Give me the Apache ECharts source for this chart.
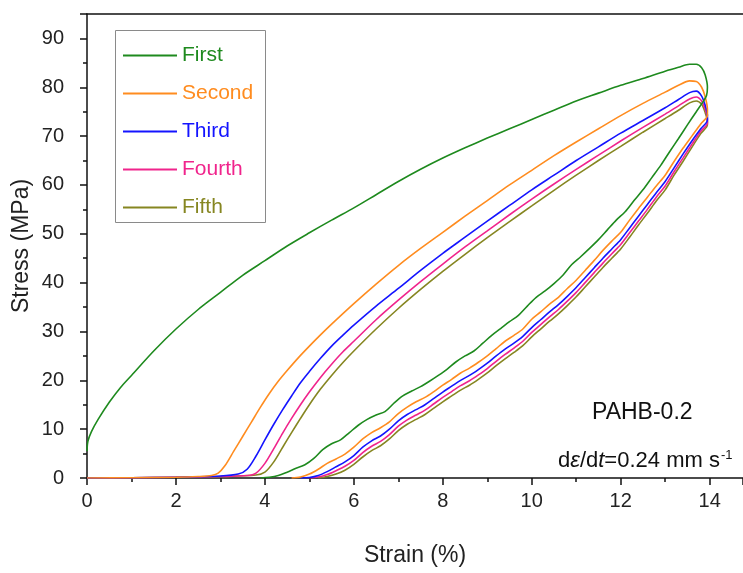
<!DOCTYPE html>
<html>
<head>
<meta charset="utf-8">
<script src="https://cdn.jsdelivr.net/npm/echarts@6/dist/echarts.min.js"></script>
<style>
html,body{margin:0;padding:0;background:#fff;}
#chart{width:743px;height:573px;}
</style>
</head>
<body>
<div id="chart"></div>
<script>
// ---- Data (strain %, stress MPa) ----
const seriesNames = ['First', 'Second', 'Third', 'Fourth', 'Fifth'];
const xTicks = [0, 2, 4, 6, 8, 10, 12, 14];
const yTicks = [0, 10, 20, 30, 40, 50, 60, 70, 80, 90];

const firstStrain = [0,0.02,0.1,0.25,0.5,0.75,1,1.5,2,2.5,3,3.5,4,4.5,5,5.5,6,6.5,7,7.5,8,8.5,9,9.5,10,10.5,11,11.5,12,12.5,13,13.3,13.55,13.7,13.82,13.9,13.95,13.93,13.85,
  13.7,13.5,13.3,13.1,12.9,12.7,12.5,12.3,12.1,11.9,11.7,11.5,11.3,11.1,10.9,10.7,10.5,10.3,10.1,9.9,9.7,9.5,9.3,9.1,8.9,8.7,8.5,8.3,8.1,7.9,7.7,7.5,7.3,7.1,6.9,6.7,6.5,6.3,6.1,5.9,5.7,5.5,5.3,5.1,4.9,4.7,4.5,4.3,4.1,3.9];
const firstStress = [5.5,7.5,9.5,12,15.5,18.5,21,26,30.5,34.5,38,41.5,44.5,47.5,50.2,52.8,55.3,58,60.7,63.2,65.5,67.6,69.6,71.5,73.4,75.3,77.2,78.8,80.4,81.8,83.3,84.1,84.7,84.7,84,82.5,80,78.3,77,
  75,72.3,69.5,66.8,64,61.5,59,56.8,54.5,52.8,50.8,48.8,47,45.3,43.7,41.5,39.8,38.3,37,35.2,33.3,32,30.6,29.2,27.6,26,25,23.8,22.3,21,19.8,18.7,17.8,16.8,15.3,13.6,12.9,12,10.8,9.3,7.8,7,5.8,4,2.7,2,1.2,0.5,0.15,0];

const secondStrain = [0,1,2,2.5,2.8,2.95,3.1,3.3,3.5,3.7,3.9,4.1,4.3,4.5,4.75,5,5.25,5.5,6,6.5,7,7.5,8,8.5,9,9.5,10,10.5,11,11.5,12,12.5,13,13.3,13.55,13.7,13.82,13.9,13.95,13.95,
  13.8,13.6,13.4,13.2,13,12.8,12.6,12.4,12.2,12,11.8,11.6,11.4,11.2,11,10.8,10.6,10.4,10.2,10,9.8,9.6,9.4,9.2,9,8.8,8.6,8.4,8.2,8,7.8,7.6,7.4,7.2,7,6.8,6.6,6.4,6.2,6,5.8,5.6,5.4,5.2,5,4.8,4.6];
const secondStress = [0,0.05,0.15,0.3,0.5,1,2.5,5.5,8.5,11.5,14.5,17.3,19.8,22,24.6,27,29.3,31.5,35.7,39.7,43.5,47,50.3,53.6,56.8,60,63,66,68.8,71.5,74.2,76.7,79,80.4,81.3,81.2,80,78,75.5,74.2,
  72.5,70,67.5,64.8,62,59.8,57.5,55.2,52.8,50.3,48.5,46.6,44.5,42.5,40.5,38.8,37,35.6,34,32.5,30.5,29.2,28,26.5,25,23.7,22.5,21.5,20.2,19,17.7,16.5,15.6,14.5,13.2,11.5,10.3,9.3,8,6.3,4.9,3.9,3,1.8,0.8,0.2,0];

const thirdStrain = [0,1,2,3,3.4,3.6,3.8,4,4.2,4.4,4.6,4.8,5,5.25,5.5,5.75,6,6.5,7,7.5,8,8.5,9,9.5,10,10.5,11,11.5,12,12.5,13,13.3,13.55,13.7,13.82,13.9,13.95,13.95,
  13.8,13.6,13.4,13.2,13,12.8,12.6,12.4,12.2,12,11.8,11.6,11.4,11.2,11,10.8,10.6,10.4,10.2,10,9.8,9.6,9.4,9.2,9,8.8,8.6,8.4,8.2,8,7.8,7.6,7.4,7.2,7,6.8,6.6,6.4,6.2,6,5.8,5.6,5.4,5.2,5,4.8];
const thirdStress = [0,0.05,0.15,0.4,0.8,1.8,4.5,7.8,11,14,16.8,19.5,21.8,24.5,27,29.2,31.3,35.2,38.8,42.5,46,49.3,52.6,55.8,59,62,65,67.8,70.6,73.2,75.8,77.5,78.9,79.2,78.2,76.3,74.2,73.3,
  71.5,69,66.3,63.5,60.7,58.4,56,53.6,51.2,48.8,46.9,45,43,41,39,37.2,35.5,34,32.4,30.8,29,27.6,26.4,25,23.5,22.2,21,20,18.8,17.6,16.3,15,14,13,11.7,10,8.6,7.6,6.3,4.6,3.3,2.3,1.3,0.5,0.1,0];

const fourthStrain = [0,1,2,3,3.6,3.8,4,4.2,4.4,4.6,4.8,5,5.25,5.5,5.75,6,6.5,7,7.5,8,8.5,9,9.5,10,10.5,11,11.5,12,12.5,13,13.3,13.55,13.7,13.82,13.9,13.95,13.95,
  13.8,13.6,13.4,13.2,13,12.8,12.6,12.4,12.2,12,11.8,11.6,11.4,11.2,11,10.8,10.6,10.4,10.2,10,9.8,9.6,9.4,9.2,9,8.8,8.6,8.4,8.2,8,7.8,7.6,7.4,7.2,7,6.8,6.6,6.4,6.2,6,5.8,5.6,5.4,5.2,5];
const fourthStress = [0,0.05,0.15,0.3,0.5,1,3,6,9.2,12.2,15,17.6,20.6,23.3,25.8,28,32.4,36.4,40.2,43.8,47.3,50.6,53.9,57.1,60.2,63.2,66.1,69,71.8,74.5,76.2,77.6,78,77.2,75.5,73.5,72.7,
  71,68.3,65.5,62.7,59.8,57.5,55,52.6,50.2,47.8,45.9,44,42,40,38,36.2,34.5,33,31.4,29.8,28,26.6,25.3,23.9,22.4,21.1,19.9,18.9,17.7,16.5,15.2,13.9,12.9,11.9,10.6,8.9,7.5,6.5,5.2,3.6,2.4,1.5,0.7,0.2,0];

const fifthStrain = [0,1,2,3,3.8,4,4.2,4.4,4.6,4.8,5,5.25,5.5,5.75,6,6.5,7,7.5,8,8.5,9,9.5,10,10.5,11,11.5,12,12.5,13,13.3,13.55,13.7,13.82,13.9,13.95,13.95,
  13.8,13.6,13.4,13.2,13,12.8,12.6,12.4,12.2,12,11.8,11.6,11.4,11.2,11,10.8,10.6,10.4,10.2,10,9.8,9.6,9.4,9.2,9,8.8,8.6,8.4,8.2,8,7.8,7.6,7.4,7.2,7,6.8,6.6,6.4,6.2,6,5.8,5.6,5.4,5.2];
const fifthStress = [0,0.05,0.15,0.3,0.6,1.2,3.3,6.3,9.3,12.2,15,18.2,21,23.6,26,30.5,34.7,38.6,42.3,45.8,49.2,52.5,55.7,58.9,62,65,67.9,70.8,73.6,75.3,76.8,77.2,76.5,74.8,73,72.3,
  70.5,67.7,64.8,62,59,56.7,54.2,51.8,49.3,46.9,45,43.1,41.1,39.1,37.1,35.3,33.6,32.1,30.5,28.9,27.1,25.7,24.4,23,21.5,20.2,19,18,16.8,15.6,14.3,13,12,11,9.7,8,6.6,5.6,4.3,2.8,1.6,0.8,0.3,0];

const colors = ['#1e8a1e', '#ff8c1f', '#1414ff', '#f0248c', '#868621'];

function zip(xs, ys) { return xs.map((x, i) => [x, ys[i]]); }
const curves = [
  zip(firstStrain, firstStress),
  zip(secondStrain, secondStress),
  zip(thirdStrain, thirdStress),
  zip(fourthStrain, fourthStress),
  zip(fifthStrain, fifthStress)
];

const FONT = 'Liberation Sans, Arial, sans-serif';
const chart = echarts.init(document.getElementById('chart'), null, {renderer: 'canvas'});

const option = {
  animation: false,
  backgroundColor: '#ffffff',
  grid: {left: 87, right: 0, top: 14, bottom: 95, containLabel: false},
  xAxis: [{
    type: 'value', min: 0, max: 14.75, interval: 2,
    name: 'Strain (%)', nameLocation: 'middle', nameGap: 66,
    nameTextStyle: {fontFamily: FONT, fontSize: 23, color: '#222'},
    axisLine: {show: true, lineStyle: {color: '#111', width: 1.5}},
    axisTick: {show: true, inside: false, length: 7, lineStyle: {color: '#111', width: 1.5}},
    minorTick: {show: true, splitNumber: 2, length: 4, lineStyle: {color: '#111', width: 1.5}},
    axisLabel: {fontFamily: FONT, fontSize: 20, color: '#222', margin: 13, showMaxLabel: false,
      formatter: v => xTicks.includes(v) ? String(v) : ''},
    splitLine: {show: false}
  }, {
    type: 'value', position: 'top', min: 0, max: 14.75,
    axisLine: {show: true, onZero: false, lineStyle: {color: '#111', width: 1.5}},
    axisTick: {show: false}, axisLabel: {show: false}, splitLine: {show: false}
  }],
  yAxis: {
    type: 'value', min: 0, max: 95, interval: 10,
    name: 'Stress (MPa)', nameLocation: 'middle', nameGap: 54, nameRotate: 90,
    nameMoveOverlap: false,
    nameTextStyle: {fontFamily: FONT, fontSize: 23, color: '#222'},
    axisLine: {show: true, lineStyle: {color: '#111', width: 1.5}},
    axisTick: {show: true, inside: false, length: 7, lineStyle: {color: '#111', width: 1.5}},
    minorTick: {show: true, splitNumber: 2, length: 4, lineStyle: {color: '#111', width: 1.5}},
    axisLabel: {fontFamily: FONT, fontSize: 20, color: '#222', margin: 23, showMaxLabel: false,
      formatter: v => yTicks.includes(v) ? String(v) : ''},
    splitLine: {show: false}
  },
  legend: {
    orient: 'vertical', left: 118, top: 40,
    icon: 'rect', itemWidth: 54, itemHeight: 2, itemGap: 17,
    selectedMode: false,
    textStyle: {fontFamily: FONT, fontSize: 21, lineHeight: 20},
    data: seriesNames.map((n, i) => ({name: n, textStyle: {color: colors[i]}}))
  },
  series: seriesNames.map((n, i) => ({
    name: n, type: 'line', xAxisIndex: 0,
    data: curves[i], showSymbol: false, symbol: 'none',
    smooth: 0.3, color: colors[i],
    lineStyle: {width: 1.6, color: colors[i]},
    z: 10 - i
  })),
  graphic: [
    {type: 'rect', left: 113, top: 28, silent: true,
      shape: {width: 150, height: 192},
      style: {fill: 'none', stroke: '#8a8a8a', lineWidth: 1}},
    {type: 'text', left: 592, top: 401, silent: true,
      style: {text: 'PAHB-0.2', font: '23px Liberation Sans, Arial, sans-serif', fill: '#111'}},
    {type: 'text', left: 558, top: 449, silent: true,
      style: {
        text: 'd{i|ε}/d{i|t}=0.24 mm s{s|-1}',
        font: '22px Liberation Sans, Arial, sans-serif', fill: '#111',
        rich: {
          i: {fontFamily: FONT, fontSize: 22, fontStyle: 'italic', fill: '#111'},
          s: {fontFamily: FONT, fontSize: 13, verticalAlign: 'top', fill: '#111', padding: [0,0,10,1]}
        }
      }}
  ]
};
chart.setOption(option);
</script>
</body>
</html>
